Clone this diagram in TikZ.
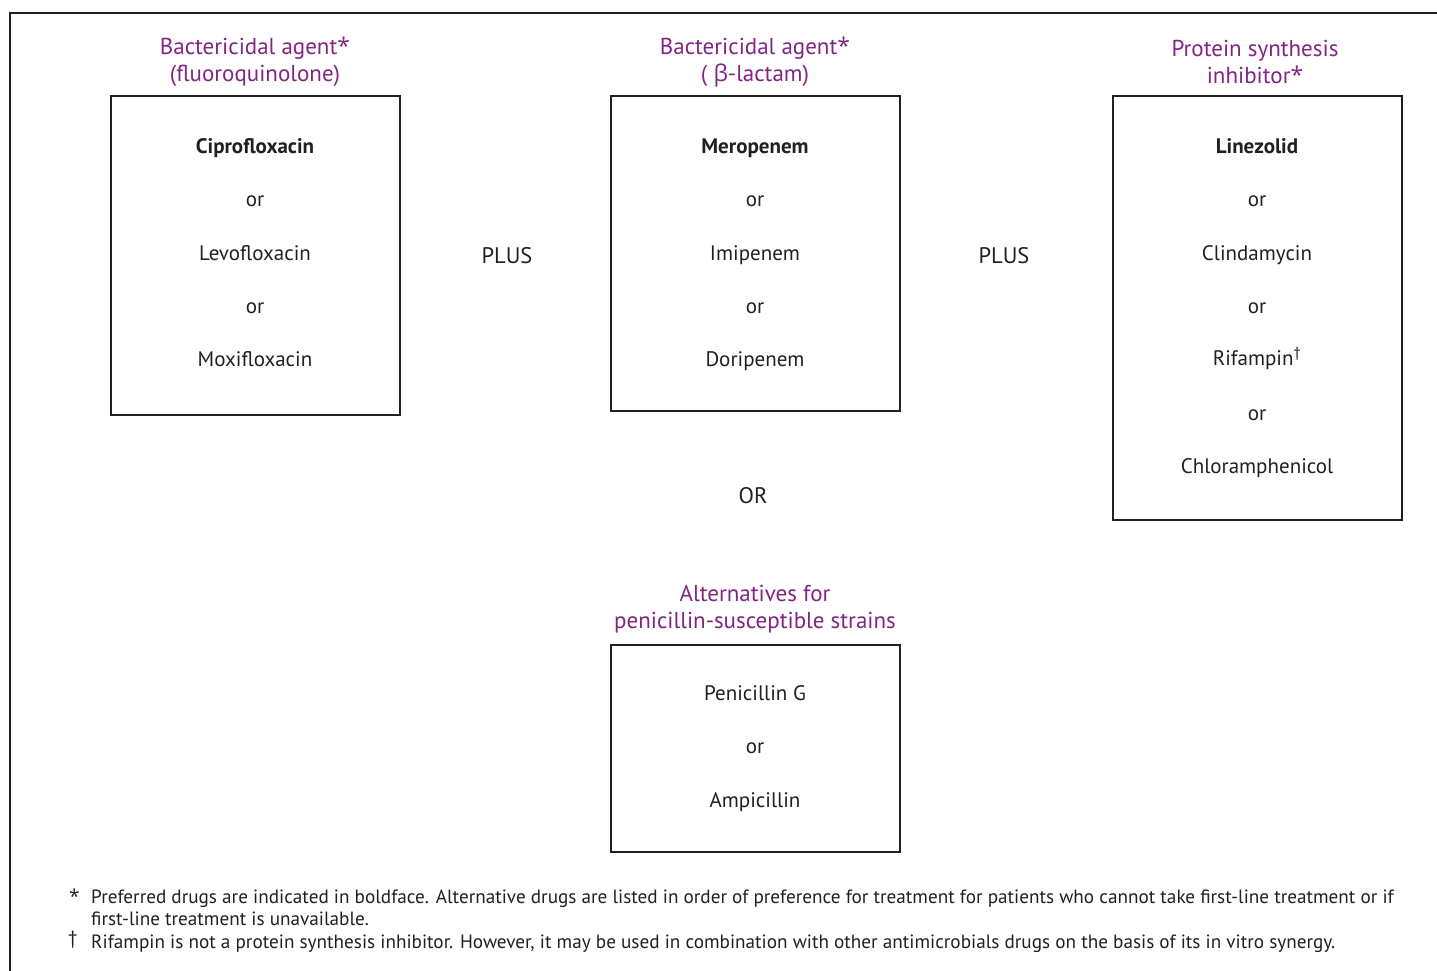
\documentclass[tikz,border=0pt]{standalone}
\usepackage{fontspec}
\setmainfont{PT Sans}
\newfontfamily\greekfont{Open Sans}
\usetikzlibrary{positioning}
\definecolor{agentpurple}{RGB}{130,36,130}
\definecolor{inkgray}{RGB}{35,31,32}
\newcommand{\notestar}{{\greekfont *}}

\begin{document}
\begin{tikzpicture}[x=1pt, y=-1pt,
    every node/.style={inner sep=0pt, text=inkgray},
    header/.style={align=center, text=agentpurple, font=\fontsize{23}{27}\selectfont},
    drug/.style={anchor=base, font=\fontsize{21}{23}\selectfont},
    boldfont/.style={font=\fontsize{21}{23}\selectfont\bfseries},
    drugbox/.style={draw=inkgray, line width=2.5pt, minimum width=289pt},
    joiner/.style={anchor=base, font=\fontsize{22.5}{25}\selectfont},
    note/.style={anchor=base west, font=\fontsize{19.2}{22}\selectfont},
]
\useasboundingbox (0,0) rectangle (1437,970);
% outer frame, cut by the page edge
\draw[inkgray, line width=2.5pt] (10,980) -- (10,13) -- (1450,13);

% fluoroquinolone column
\node[header] (quinhead) at (255,62) {Bactericidal agent\notestar\\(fluoroquinolone)};
\node[drugbox, minimum height=319pt] (quinbox) at (255.5,255.5) {};
\node[drug, boldfont] (cipro) at (255,153) {Ciprofloxacin};
\node[drug] (quinor1) at (255,206) {or};
\node[drug] (levo) at (255,260) {Levofloxacin};
\node[drug] (quinor2) at (255,313) {or};
\node[drug] (moxi) at (255,366) {Moxifloxacin};

\node[joiner] (plus1) at (507,263) {PLUS};

% beta-lactam column
\node[header] (lachead) at (755,62) {Bactericidal agent\notestar\\( {\greekfont\smash{β}}-lactam)};
\node[drugbox, minimum height=315pt] (lacbox) at (755.5,253.5) {};
\node[drug, boldfont] (mero) at (755,153) {Meropenem};
\node[drug] (lacor1) at (755,206) {or};
\node[drug] (imi) at (755,260) {Imipenem};
\node[drug] (lacor2) at (755,313) {or};
\node[drug] (dori) at (755,366) {Doripenem};

\node[joiner] (plus2) at (1004,263) {PLUS};

% protein synthesis column
\node[header] (prothead) at (1255,62) {Protein synthesis\\inhibitor\notestar};
\node[drugbox, minimum height=424pt] (protbox) at (1257.5,308) {};
\node[drug, boldfont] (line) at (1257,153) {Linezolid};
\node[drug] (protor1) at (1257,206) {or};
\node[drug] (clinda) at (1257,260) {Clindamycin};
\node[drug] (protor2) at (1257,313) {or};
\node[drug] (rif) at (1257,365) {Rifampin\textsuperscript{†}};
\node[drug] (protor3) at (1257,420) {or};
\node[drug] (chlor) at (1257,473) {Chloramphenicol};

\node[joiner] (orjoin) at (753,503) {OR};

% penicillin-susceptible strains
\node[header] (penhead) at (755,609) {Alternatives for\\penicillin-susceptible strains};
\node[drugbox, minimum height=207pt] (penbox) at (755.5,748.5) {};
\node[drug] (peng) at (755,700) {Penicillin G};
\node[drug] (penor) at (755,753) {or};
\node[drug] (ampi) at (755,807) {Ampicillin};

% footnotes
\node[note] (starmark) at (69,903) {\notestar};
\node[note] (note1) at (91,903) {Preferred drugs are indicated in boldface. Alternative drugs are listed in order of preference for treatment for patients who cannot take first-line treatment or if};
\node[note] (note1b) at (91,925) {first-line treatment is unavailable.};
\node[note] (daggermark) at (68,944) {†};
\node[note] (note2) at (91,948) {Rifampin is not a protein synthesis inhibitor. However, it may be used in combination with other antimicrobials drugs on the basis of its in vitro synergy.};
\end{tikzpicture}
\end{document}
